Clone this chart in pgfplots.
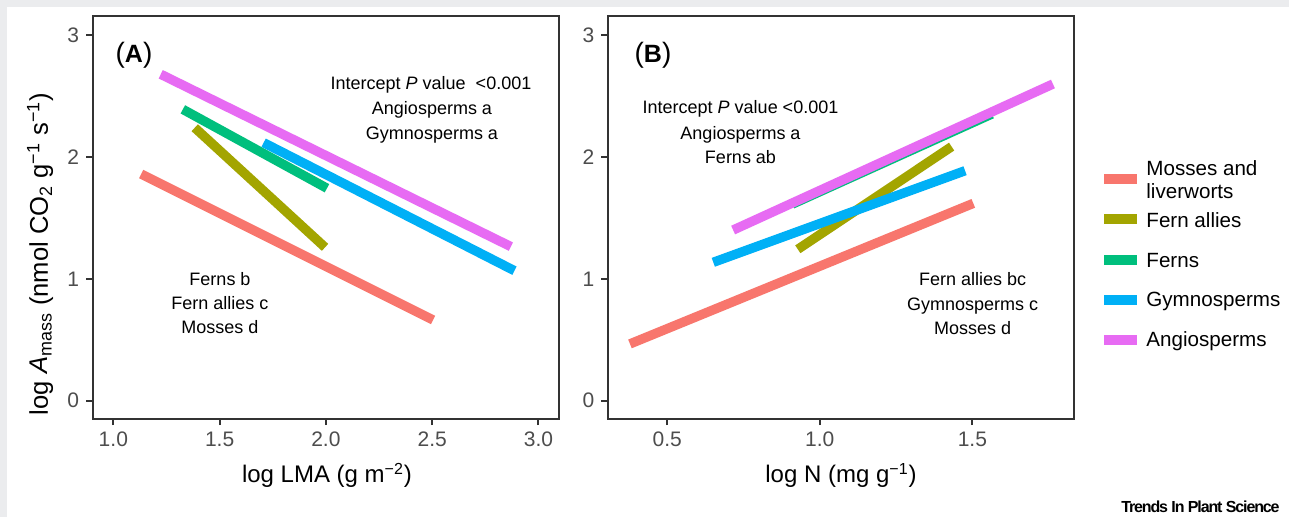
\documentclass[border=0pt]{standalone}
\usepackage{fontspec}
\setmainfont{Liberation Sans}
\newfontfamily\trendsfont[LetterSpace=-7]{Liberation Sans}
\usepackage{pgfplots}
\pgfplotsset{compat=1.18}
\definecolor{cMoss}{HTML}{F8766D}
\definecolor{cAllies}{HTML}{A3A500}
\definecolor{cFerns}{HTML}{00BF7D}
\definecolor{cGymno}{HTML}{00B0F6}
\definecolor{cAngio}{HTML}{E76BF3}
\definecolor{frameC}{HTML}{333333}
\definecolor{tickC}{HTML}{4D4D4D}
\definecolor{bgGray}{HTML}{EBECEE}
\pgfplotsset{
  panel/.style={
    scale only axis,
    width=233.3pt, height=201.5pt,
    ymin=-0.148, ymax=3.161,
    ytick={0,1,2,3},
    axis line style={draw=frameC, line width=1pt},
    every tick/.style={draw=frameC, line width=1pt},
    tick align=outside,
    major tick length=3.2pt,
    tick pos=left,
    tick label style={font=\fontsize{10.5}{12}\selectfont, text=tickC},
    /pgf/number format/assume math mode=true,
    clip=false,
  },
  fit/.style={line width=4.7pt, line cap=butt},
}
\begin{document}
\begin{tikzpicture}
\fill[bgGray] (0,0) rectangle (644.5pt,258.5pt);
\fill[white] (3.5pt,0) rectangle (644.5pt,255pt);
% Panel A
\begin{axis}[panel, at={(46.25pt,49.15pt)}, anchor=south west,
  xmin=0.902, xmax=3.097,
  xtick={1,1.5,2,2.5,3}, xticklabels={1.0,1.5,2.0,2.5,3.0}]
\addplot[fit, draw=cMoss] coordinates {(1.131,1.861) (2.504,0.663)};
\addplot[fit, draw=cAllies] coordinates {(1.383,2.241) (1.996,1.259)};
\addplot[fit, draw=cFerns] coordinates {(1.327,2.392) (2.005,1.744)};
\addplot[fit, draw=cGymno] coordinates {(1.707,2.118) (2.887,1.067)};
\addplot[fit, draw=cAngio] coordinates {(1.223,2.680) (2.870,1.265)};
\end{axis}
% Panel B
\begin{axis}[panel, at={(303.85pt,49.15pt)}, anchor=south west,
  xmin=0.305, xmax=1.834,
  xtick={0.5,1,1.5}, xticklabels={0.5,1.0,1.5}]
\addplot[fit, draw=cMoss] coordinates {(0.378,0.466) (1.503,1.620)};
\addplot[fit, draw=cAllies] coordinates {(0.928,1.243) (1.432,2.086)};
\addplot[fit, draw=cFerns] coordinates {(0.910,1.614) (1.564,2.354)};
\addplot[fit, draw=cGymno] coordinates {(0.651,1.136) (1.476,1.888)};
\addplot[fit, draw=cAngio] coordinates {(0.716,1.401) (1.764,2.600)};
\end{axis}
\begin{scope}[x=0.5pt, y=-0.5pt, shift={(0,258.5pt)}]
% axis titles
\node[anchor=base, font=\fontsize{12}{14}\selectfont] at (327,483) {log LMA (g m\textsuperscript{−2})};
\node[anchor=base, font=\fontsize{12}{14}\selectfont] at (841,483) {log N (mg g\textsuperscript{−1})};
\node[anchor=base, rotate=90, font=\fontsize{12.8}{14}\selectfont] at (48,254) {log \textit{A}\textsubscript{mass} (nmol CO\textsubscript{2} g\textsuperscript{−1} s\textsuperscript{−1})};
% panel labels
\node[anchor=base, inner sep=0] at (134,63) {\fontsize{14}{16}\selectfont(\fontsize{12.5}{14}\selectfont\bfseries A\fontsize{14}{16}\selectfont\mdseries)};
\node[anchor=base, inner sep=0] at (653,63) {\fontsize{14}{16}\selectfont(\fontsize{12.5}{14}\selectfont\bfseries B\fontsize{14}{16}\selectfont\mdseries)};
% annotations
\begin{scope}[every node/.style={anchor=base, inner sep=0, font=\fontsize{9}{11}\selectfont}]
\node at (431,89.3) {Intercept \textit{P} value\ \ {<}0.001};
\node at (432,115) {Angiosperms a};
\node at (432,139.3) {Gymnosperms a};
\node at (220,286) {Ferns b};
\node at (220,310) {Fern allies c};
\node at (220,334) {Mosses d};
\node at (740.5,113.3) {Intercept \textit{P} value {<}0.001};
\node at (740.5,139.3) {Angiosperms a};
\node at (740.5,164) {Ferns ab};
\node at (972.6,286) {Fern allies bc};
\node at (972.6,310.7) {Gymnosperms c};
\node at (972.6,334.3) {Mosses d};
\end{scope}
% legend
\begin{scope}[line width=4.7pt, line cap=butt]
\draw[cMoss] (1104,179) -- (1137,179);
\draw[cAllies] (1104,219) -- (1137,219);
\draw[cFerns] (1104,260) -- (1137,260);
\draw[cGymno] (1104,300) -- (1137,300);
\draw[cAngio] (1104,340) -- (1137,340);
\end{scope}
\begin{scope}[every node/.style={anchor=base west, inner sep=0, font=\fontsize{10.3}{12}\selectfont}]
\node at (1146,176) {Mosses and};
\node at (1146,198.3) {liverworts};
\node at (1146,227.3) {Fern allies};
\node at (1146,267.3) {Ferns};
\node at (1146,306.7) {Gymnosperms};
\node at (1146,346.7) {Angiosperms};
\end{scope}
\node[anchor=base east, inner sep=0, font=\trendsfont\fontsize{8}{9}\selectfont\bfseries] at (1280,512.3) {Trends In Plant Science};
\end{scope}
\end{tikzpicture}
\end{document}
